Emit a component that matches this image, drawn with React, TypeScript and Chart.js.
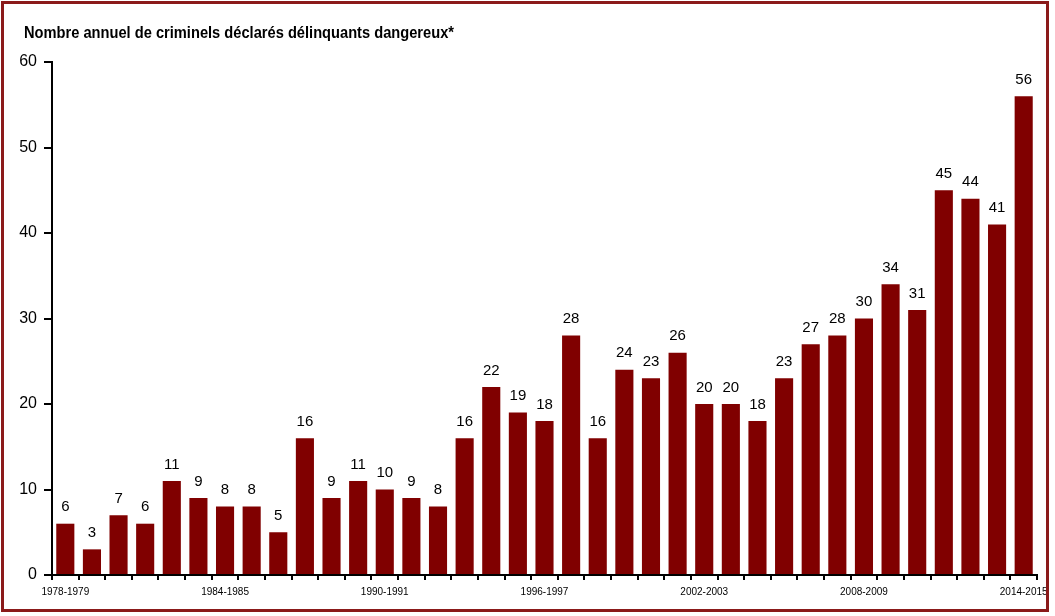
import React, { useEffect, useRef } from 'react';
import { Chart, registerables } from 'chart.js';

Chart.register(...registerables);

const startYears = Array.from({ length: 37 }, (_, i) => 1978 + i);
const categories = startYears.map(y => `${y}-${y + 1}`);

const designations = [
  6, 3, 7, 6, 11, 9, 8, 8, 5, 16, 9, 11, 10, 9, 8, 16, 22, 19, 18, 28, 16, 24, 23, 26, 20, 20, 18, 23, 27, 28, 30, 34, 31, 45,
  44, 41, 56,
];

const yTicks = [0, 10, 20, 30, 40, 50, 60];

const chartTitle = 'Nombre annuel de criminels déclarés délinquants dangereux*';

const barColor = '#800000';
const frameColor = '#8b1a1a';
const font = 'Arial, "Liberation Sans", sans-serif';

// title (slightly condensed like the original) and value labels above the bars
const annotations = {
  id: 'annotations',
  afterDraw(chart: Chart) {
    const ctx = chart.ctx;
    ctx.save();
    ctx.fillStyle = '#000';
    ctx.font = `bold 17px ${font}`;
    ctx.textAlign = 'left';
    ctx.textBaseline = 'middle';
    const w = ctx.measureText(chartTitle).width;
    const sx = 430 / w;
    ctx.translate(24, 33);
    ctx.scale(sx, 1);
    ctx.fillText(chartTitle, 0, 0);
    ctx.restore();
  },
  afterDatasetsDraw(chart: Chart) {
    const ctx = chart.ctx;
    const meta = chart.getDatasetMeta(0);
    ctx.save();
    ctx.fillStyle = '#000';
    ctx.font = `15px ${font}`;
    ctx.textAlign = 'center';
    ctx.textBaseline = 'bottom';
    meta.data.forEach((bar: any, i: number) => {
      ctx.fillText(String(designations[i]), bar.x, bar.y - 9);
    });
    ctx.restore();
  },
};

export default function App() {
  const canvasRef = useRef<HTMLCanvasElement>(null);
  const chartRef = useRef<Chart | null>(null);

  useEffect(() => {
    if (!canvasRef.current) return;
    if (chartRef.current) chartRef.current.destroy();

    chartRef.current = new Chart(canvasRef.current, {
      type: 'bar',
      data: {
        labels: categories,
        datasets: [
          {
            label: 'Délinquants dangereux',
            data: designations,
            backgroundColor: barColor,
            borderWidth: 0,
            barPercentage: 0.68,
            categoryPercentage: 1,
          },
        ],
      },
      options: {
        animation: false,
        responsive: false,
        maintainAspectRatio: false,
        layout: { padding: { left: 0, right: 18, top: 62, bottom: 0 } },
        plugins: {
          legend: { display: false },
          tooltip: { enabled: false },
          title: { display: false },
        },
        scales: {
          x: {
            offset: true,
            grid: {
              offset: true,
              drawOnChartArea: false,
              drawTicks: true,
              tickLength: 5,
              color: '#000',
              lineWidth: 2,
            },
            border: { display: true, color: '#000', width: 2 },
            ticks: {
              autoSkip: false,
              maxRotation: 0,
              minRotation: 0,
              padding: 6,
              color: '#000',
              font: { family: font, size: 10 },
              callback: (_v: any, i: number) => (i % 6 === 0 ? categories[i] : ''),
            },
            afterFit: (scale: any) => {
              scale.height = 41;
            },
          },
          y: {
            min: 0,
            max: 60,
            afterBuildTicks: (scale: any) => {
              scale.ticks = yTicks.map(v => ({ value: v }));
            },
            grid: {
              drawOnChartArea: false,
              drawTicks: true,
              tickLength: 8,
              color: '#000',
              lineWidth: 2,
            },
            border: { display: true, color: '#000', width: 2 },
            ticks: {
              padding: 7,
              color: '#000',
              font: { family: font, size: 16 },
            },
            afterFit: (scale: any) => {
              scale.width = 52;
            },
          },
        },
      },
      plugins: [annotations],
    });

    return () => {
      if (chartRef.current) {
        chartRef.current.destroy();
        chartRef.current = null;
      }
    };
  }, []);

  return (
    <div style={{ position: 'fixed', left: 0, top: 0, width: 1055, height: 616, background: '#fff' }}>
      <canvas ref={canvasRef} width={1055} height={616} style={{ position: 'absolute', left: 0, top: 0 }} />
      <div
        style={{
          position: 'absolute',
          left: 1,
          top: 1,
          width: 1048,
          height: 611,
          border: `3px solid ${frameColor}`,
          boxSizing: 'border-box',
          pointerEvents: 'none',
        }}
      />
    </div>
  );
}
